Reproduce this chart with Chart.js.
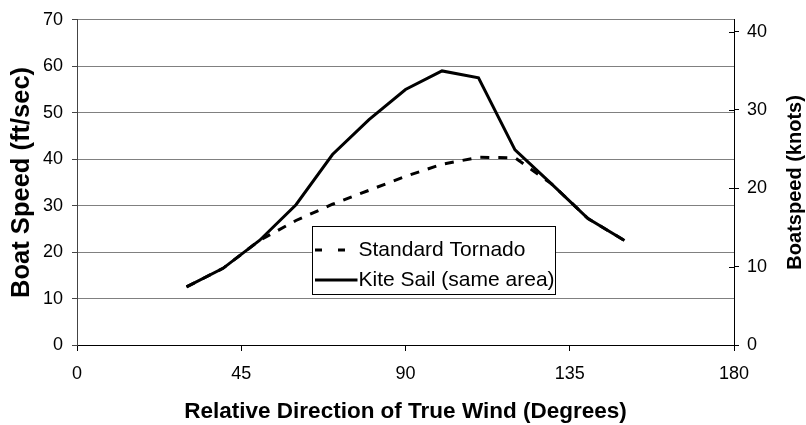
<!DOCTYPE html>
<html><head><meta charset="utf-8">
<script src="https://cdn.jsdelivr.net/npm/chart.js@4/dist/chart.umd.min.js"></script>
<style>html,body{margin:0;padding:0;background:#fff;overflow:hidden}#wrap{width:806px;height:425px;position:relative}</style>
</head><body><div id="wrap"><canvas id="c"></canvas></div>
<script>
// ---- data ----
const angles = [30, 40, 50, 60, 70, 80, 90, 100, 110, 120, 130, 140, 150];
const standardTornado = [12.5, 16.5, 22.5, 26.8, 30.3, 33.3, 36.3, 38.9, 40.4, 40.3, 34.7, 27.2, 22.5];
const kiteSail = [12.5, 16.5, 22.5, 30.2, 41, 48.5, 55, 59, 57.5, 42, 34.7, 27.2, 22.5];
const seriesLabels = ['Standard Tornado', 'Kite Sail (same area)'];
const xTicks = [0, 45, 90, 135, 180];
const ftTicks = [0, 10, 20, 30, 40, 50, 60, 70];
const knotTicks = [0, 10, 20, 30, 40];
const X_MAX = 180;
const FT_MAX = 70;
const KNOT_MAX = 41.5;
const rightTitle = 'Boatspeed (knots)';

const FONT = "'Liberation Sans', Arial, sans-serif";
Chart.defaults.font.family = FONT;
Chart.defaults.color = '#000';

const toPoints = (ys) => angles.map((a, i) => ({x: a, y: ys[i]}));

const overlay = {
  id: 'overlay',
  afterDraw(chart) {
    const ctx = chart.ctx;
    const y2 = chart.scales.y2;
    ctx.save();
    // inner half of the right-axis tick marks
    ctx.strokeStyle = '#000';
    ctx.lineWidth = 1;
    y2.ticks.forEach(t => {
      const py = Math.round(y2.getPixelForValue(t.value)) + 0.5;
      ctx.beginPath();
      ctx.moveTo(y2.left - 5, py);
      ctx.lineTo(y2.left, py);
      ctx.stroke();
    });
    // right axis title, reading bottom-to-top
    ctx.save();
    ctx.translate(y2.right - 11, (y2.top + y2.bottom) / 2);
    ctx.rotate(-Math.PI / 2);
    ctx.font = 'bold 20px ' + FONT;
    ctx.fillStyle = '#000';
    ctx.textAlign = 'center';
    ctx.textBaseline = 'middle';
    ctx.fillText(rightTitle, 0, 0);
    ctx.restore();
    // legend box
    const bx = 312.5, by = 226.5, bw = 243, bh = 68;
    ctx.fillStyle = '#fff';
    ctx.fillRect(bx, by, bw, bh);
    ctx.strokeStyle = '#000';
    ctx.lineWidth = 1;
    ctx.strokeRect(bx, by, bw, bh);
    const legendDash = [[7, 16], []];
    chart.data.datasets.forEach((ds, i) => {
      const cy = by + 23.5 + i * 30;
      ctx.strokeStyle = ds.borderColor;
      ctx.lineWidth = ds.borderWidth;
      ctx.setLineDash(legendDash[i]);
      ctx.beginPath();
      ctx.moveTo(bx + 2.5, cy);
      ctx.lineTo(bx + 45, cy);
      ctx.stroke();
      ctx.setLineDash([]);
      ctx.fillStyle = '#000';
      ctx.font = '21px ' + FONT;
      ctx.textBaseline = 'middle';
      ctx.textAlign = 'left';
      ctx.fillText(ds.label, bx + 46, cy);
    });
    ctx.restore();
  }
};

new Chart(document.getElementById('c'), {
  type: 'line',
  data: {
    datasets: [
      {label: seriesLabels[0], data: toPoints(standardTornado), borderColor: '#000', borderWidth: 3,
       borderDash: [9, 9], pointRadius: 0, fill: false, tension: 0, order: 1, yAxisID: 'y'},
      {label: seriesLabels[1], data: toPoints(kiteSail), borderColor: '#000', borderWidth: 3,
       pointRadius: 0, fill: false, tension: 0, order: 0, yAxisID: 'y'}
    ]
  },
  options: {
    responsive: true,
    maintainAspectRatio: false,
    animation: false,
    layout: {padding: {top: 19, left: 0, right: 0, bottom: 0}},
    plugins: {legend: {display: false}, tooltip: {enabled: false}},
    scales: {
      x: {
        type: 'linear', position: 'bottom', min: 0, max: X_MAX,
        afterBuildTicks: s => { s.ticks = xTicks.map(v => ({value: v})); },
        afterFit: s => { s.height = 80; },
        ticks: {font: {size: 18}, padding: 12, maxRotation: 0, color: '#000'},
        grid: {drawOnChartArea: false, tickLength: 6, tickColor: '#000'},
        border: {color: '#000', width: 1},
        title: {display: true, text: 'Relative Direction of True Wind (Degrees)', font: {size: 22.5, weight: 'bold'},
                padding: {top: 0, bottom: 0}, color: '#000'}
      },
      y: {
        type: 'linear', position: 'left', min: 0, max: FT_MAX,
        afterBuildTicks: s => { s.ticks = ftTicks.map(v => ({value: v})); },
        afterFit: s => { s.width = 77; },
        ticks: {font: {size: 18}, padding: 9, color: '#000'},
        grid: {color: '#808080', tickLength: 5, tickColor: '#444'},
        border: {color: '#444', width: 1},
        title: {display: true, text: 'Boat Speed (ft/sec)', font: {size: 25.5, weight: 'bold'},
                padding: {top: 7, bottom: 0}, color: '#000'}
      },
      y2: {
        type: 'linear', position: 'right', min: 0, max: KNOT_MAX,
        afterBuildTicks: s => { s.ticks = knotTicks.map(v => ({value: v})); },
        afterFit: s => { s.width = 72; },
        ticks: {font: {size: 18}, padding: 8, color: '#000'},
        grid: {drawOnChartArea: false, tickLength: 5, tickColor: '#000'},
        border: {color: '#000', width: 1},
        title: {display: false}
      }
    }
  },
  plugins: [overlay]
});
</script></body></html>
